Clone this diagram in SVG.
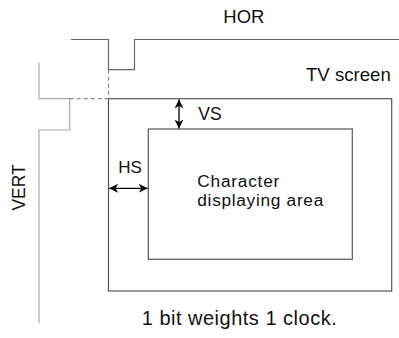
<svg xmlns="http://www.w3.org/2000/svg" width="399" height="338" viewBox="0 0 399 338">
<defs>
<marker id="ah" viewBox="0 0 10 10" refX="10" refY="5" markerWidth="9" markerHeight="9" markerUnits="userSpaceOnUse" orient="auto-start-reverse">
<path d="M0,0 L10,5 L0,10 L3,5 z" fill="#000"/>
</marker>
</defs>
<style>
text{font-family:"Liberation Sans",Arial,sans-serif;fill:#111}
.w{fill:none;stroke:#666;stroke-width:1.2}
.v{fill:none;stroke:#aaa;stroke-width:1.2}
.d{fill:none;stroke:#888;stroke-width:1.2;stroke-dasharray:4,3}
.r{fill:none;stroke:#555;stroke-width:1.2}
.a{fill:none;stroke:#000;stroke-width:1.3}
</style>
<g id="hor-signal">
<polyline class="w" points="71,39.5 108.5,39.5 108.5,69.7 134.5,69.7 134.5,39.5 399,39.5"/>
<text x="223.3" y="22.7" font-size="18.5">HOR</text>
</g>
<g id="vert-signal">
<polyline class="v" points="39,62.7 39,98.7 69.7,98.7 69.7,130 39,130 39,323"/>
<text transform="translate(25,187.4) rotate(-90)" font-size="17.5" text-anchor="middle">VERT</text>
</g>
<g id="tv-screen">
<rect class="r" x="108.5" y="98.7" width="283.2" height="192.3"/>
<text x="306" y="80.7" font-size="18.6">TV screen</text>
</g>
<g id="char-area">
<rect class="r" x="148.3" y="129" width="204" height="130.3"/>
<text x="197.3" y="186.5" font-size="17.3" textLength="82">Character</text>
<text x="197.3" y="206" font-size="17.3" textLength="126">displaying area</text>
</g>
<g id="connectors">
<line class="d" x1="108.5" y1="69.7" x2="108.5" y2="98.7"/>
<line class="d" x1="69.7" y1="98.7" x2="108.5" y2="98.7"/>
<line class="a" x1="179" y1="99.5" x2="179" y2="128.5" marker-start="url(#ah)" marker-end="url(#ah)"/>
<line class="a" x1="109.2" y1="188.3" x2="147.6" y2="188.3" marker-start="url(#ah)" marker-end="url(#ah)"/>
</g>
<g id="labels">
<text x="198.3" y="120" font-size="17.5">VS</text>
<text x="118.3" y="172.7" font-size="17">HS</text>
<text x="141.7" y="325" font-size="20" textLength="195">1 bit weights 1 clock.</text>
</g>
</svg>
